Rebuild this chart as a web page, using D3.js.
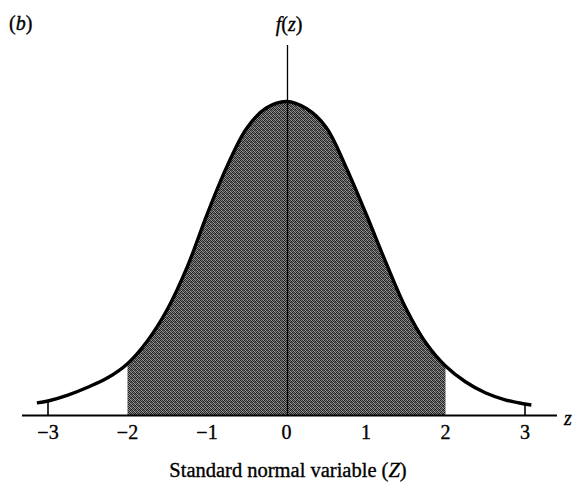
<!DOCTYPE html>
<html><head><meta charset="utf-8">
<script src="https://cdn.jsdelivr.net/npm/d3@7"></script>
<style>
html,body{margin:0;padding:0;background:#fff;}
svg{display:block;}
text{font-family:"Liberation Serif","Times New Roman",serif;fill:#000;stroke:#000;stroke-width:0.35px;}
</style></head>
<body>
<svg id="chart" width="575" height="489"></svg>
<script>
// Curve values
const zValues = [-3.14,-3,-2.75,-2.5,-2.25,-2,-1.75,-1.5,-1.25,-1,-0.75,-0.5,-0.25,0,0.25,0.5,0.75,1,1.25,1.5,1.75,2,2.25,2.5,2.75,3,3.08];
const fValues = [0.016,0.0185,0.026,0.036,0.048,0.066,0.095,0.135,0.189,0.256,0.317,0.366,0.392,0.400,0.391,0.367,0.316,0.257,0.195,0.137,0.093,0.063,0.043,0.029,0.020,0.0146,0.0134];
const tickValues = [-3,-2,-1,0,1,2,3];
const tickLabels = ["\u22123","\u22122","\u22121","0","1","2","3"];
const shadeRange = [-2, 2];
const xTitle = "Standard normal variable (";
const xTitleVar = "Z";
const panelLabel = "b";

const svg = d3.select("#chart");
const x = d3.scaleLinear().domain([-3,3]).range([48,525]);
const y = d3.scaleLinear().domain([0,0.4]).range([415.5,101.5]);
const data = zValues.map((z,i)=>({z, f:fValues[i]}));

// texture pattern
const defs = svg.append("defs");
const pat = defs.append("pattern").attr("id","tex").attr("patternUnits","userSpaceOnUse")
  .attr("width",4).attr("height",4);
const cells = [["#1e1e1e","#7a7a7a","#383838","#959595"],["#8a8a8a","#2a2a2a","#6a6a6a","#1a1a1a"],["#303030","#a0a0a0","#262626","#5e5e5e"],["#7e7e7e","#1e1e1e","#9a9a9a","#404040"]];
cells.forEach((row,r)=>row.forEach((c,k)=>pat.append("rect").attr("x",k).attr("y",r).attr("width",1).attr("height",1).attr("fill",c)));

const curve = d3.curveCatmullRom.alpha(0.5);
const shaded = data.filter(d=>d.z>=shadeRange[0]-1e-9 && d.z<=shadeRange[1]+1e-9);
svg.append("path").datum(shaded)
  .attr("d", d3.area().x(d=>x(d.z)).y0(y(0)).y1(d=>y(d.f)).curve(curve))
  .attr("fill","url(#tex)");

// axis line
svg.append("line").attr("x1",22).attr("x2",557).attr("y1",y(0)).attr("y2",y(0))
  .attr("stroke","#000").attr("stroke-width",2);

// vertical axis
svg.append("line").attr("x1",x(0)+1).attr("x2",x(0)+1).attr("y1",45).attr("y2",y(0))
  .attr("stroke","#000").attr("stroke-width",1.3);

// curve
svg.append("path").datum(data)
  .attr("d", d3.line().x(d=>x(d.z)).y(d=>y(d.f)).curve(curve))
  .attr("fill","none").attr("stroke","#000").attr("stroke-width",3.4).attr("stroke-linecap","butt");

// drop lines at -3 and 3
[-3,3].forEach(t=>{
  const i = zValues.indexOf(t);
  svg.append("line").attr("x1",x(t)).attr("x2",x(t)).attr("y1",y(fValues[i])).attr("y2",y(0))
    .attr("stroke","#000").attr("stroke-width",1.6);
});

// tick labels
svg.selectAll("text.tick").data(tickValues).enter().append("text")
  .attr("class","tick").attr("x",d=>x(d)).attr("y",439)
  .attr("text-anchor","middle").attr("font-size",20)
  .text((d,i)=>tickLabels[i]);

// z label
svg.append("text").attr("x",564).attr("y",425).attr("font-size",20).attr("font-style","italic").text("z");

// f(z) label
const fz = svg.append("text").attr("x",289).attr("y",31).attr("text-anchor","middle").attr("font-size",20);
fz.append("tspan").attr("font-style","italic").text("f");
fz.append("tspan").text("(");
fz.append("tspan").attr("font-style","italic").text("z");
fz.append("tspan").text(")");

// panel label
const pl = svg.append("text").attr("x",9).attr("y",30).attr("font-size",20);
pl.append("tspan").text("(");
pl.append("tspan").attr("font-style","italic").text(panelLabel);
pl.append("tspan").text(")");

// x title
const xt = svg.append("text").attr("x",288).attr("y",477).attr("text-anchor","middle").attr("font-size",20.5);
xt.append("tspan").text(xTitle);
xt.append("tspan").attr("font-style","italic").text(xTitleVar);
xt.append("tspan").text(")");
</script>
</body></html>
